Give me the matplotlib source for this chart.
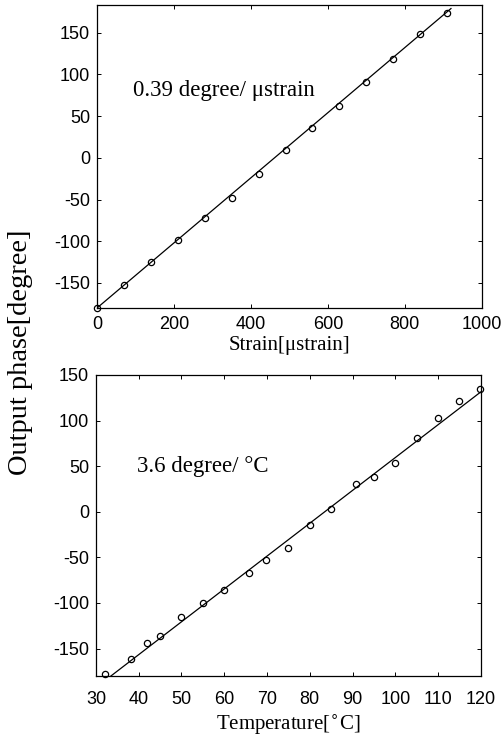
import matplotlib
matplotlib.use("Agg")
import matplotlib.pyplot as plt
import numpy as np

plt.rcParams['axes.unicode_minus'] = False

## strain panel data
strain = [0, 70, 140, 210, 280, 350, 420, 490, 560, 630, 700, 770, 840, 910]
strain_phase = [-180, -152, -125, -98, -72, -48, -20, 9, 36, 62, 91, 118, 148, 173]
strain_fit_x = [0, 920]
strain_fit_y = [-180, 178.8]

## temperature panel data
temp = [32, 38.3, 41.9, 44.9, 49.9, 55, 60, 65.9, 69.8, 74.9, 80, 84.9, 90.9, 95, 99.9,
        105, 110, 114.8, 119.8]
temp_phase = [-178, -161, -144, -136, -115, -100, -85.5, -67, -52.5, -40, -14.7, 3, 30, 38,
              54, 80.6, 102.6, 121.7, 134.5]
temp_fit_x = [33.5, 120]
temp_fit_y = [-180, 131.4]

serif = "Liberation Serif"
sans = "Liberation Sans"

fig = plt.figure(figsize=(5.01, 7.39), dpi=100)
ax1 = fig.add_axes([0.1936, 0.5832, 0.768, 0.410])
ax2 = fig.add_axes([0.1916, 0.0853, 0.768, 0.4073])

def style(ax, xpad):
    ax.tick_params(direction="in", top=True, right=True, length=3, width=0.7,
                   labelsize=13, pad=5)
    ax.tick_params(axis="x", pad=xpad)
    for lab in ax.get_xticklabels() + ax.get_yticklabels():
        lab.set_fontfamily(sans)
    for sp in ax.spines.values():
        sp.set_linewidth(0.9)

ax1.plot(strain_fit_x, strain_fit_y, color="black", lw=0.9)
ax1.plot(strain, strain_phase, "o", mfc="none", mec="black", ms=4.5, mew=0.9, clip_on=False)
ax1.set_xlim(0, 1000)
ax1.set_ylim(-180, 183)
ax1.set_xticks([0, 200, 400, 600, 800, 1000])
ax1.set_yticks([-150, -100, -50, 0, 50, 100, 150])
style(ax1, 6)
ax1.set_xlabel("Strain[μstrain]", fontfamily=serif, fontsize=15, labelpad=2)
ax1.text(93, 80, "0.39 degree/ μstrain", fontfamily=serif, fontsize=16.5, va="center")

ax2.plot(temp_fit_x, temp_fit_y, color="black", lw=0.9)
ax2.plot(temp, temp_phase, "o", mfc="none", mec="black", ms=4.5, mew=0.9, clip_on=False)
ax2.set_xlim(30, 120)
ax2.set_ylim(-180, 150)
ax2.set_xticks(np.arange(30, 121, 10))
ax2.set_yticks([-150, -100, -50, 0, 50, 100, 150])
style(ax2, 11)
ax2.set_xlabel("Temperature[$^{\\circ}$C]", fontfamily=serif, fontsize=15, labelpad=3)
ax2.text(39.6, 49.5, "3.6 degree/ °C", fontfamily=serif, fontsize=16.5, va="center")

fig.text(0.04, 0.524, "Output phase[degree]", rotation=90, fontfamily=serif,
         fontsize=20.5, ha="center", va="center")

fig.savefig("out.png", dpi=100)
